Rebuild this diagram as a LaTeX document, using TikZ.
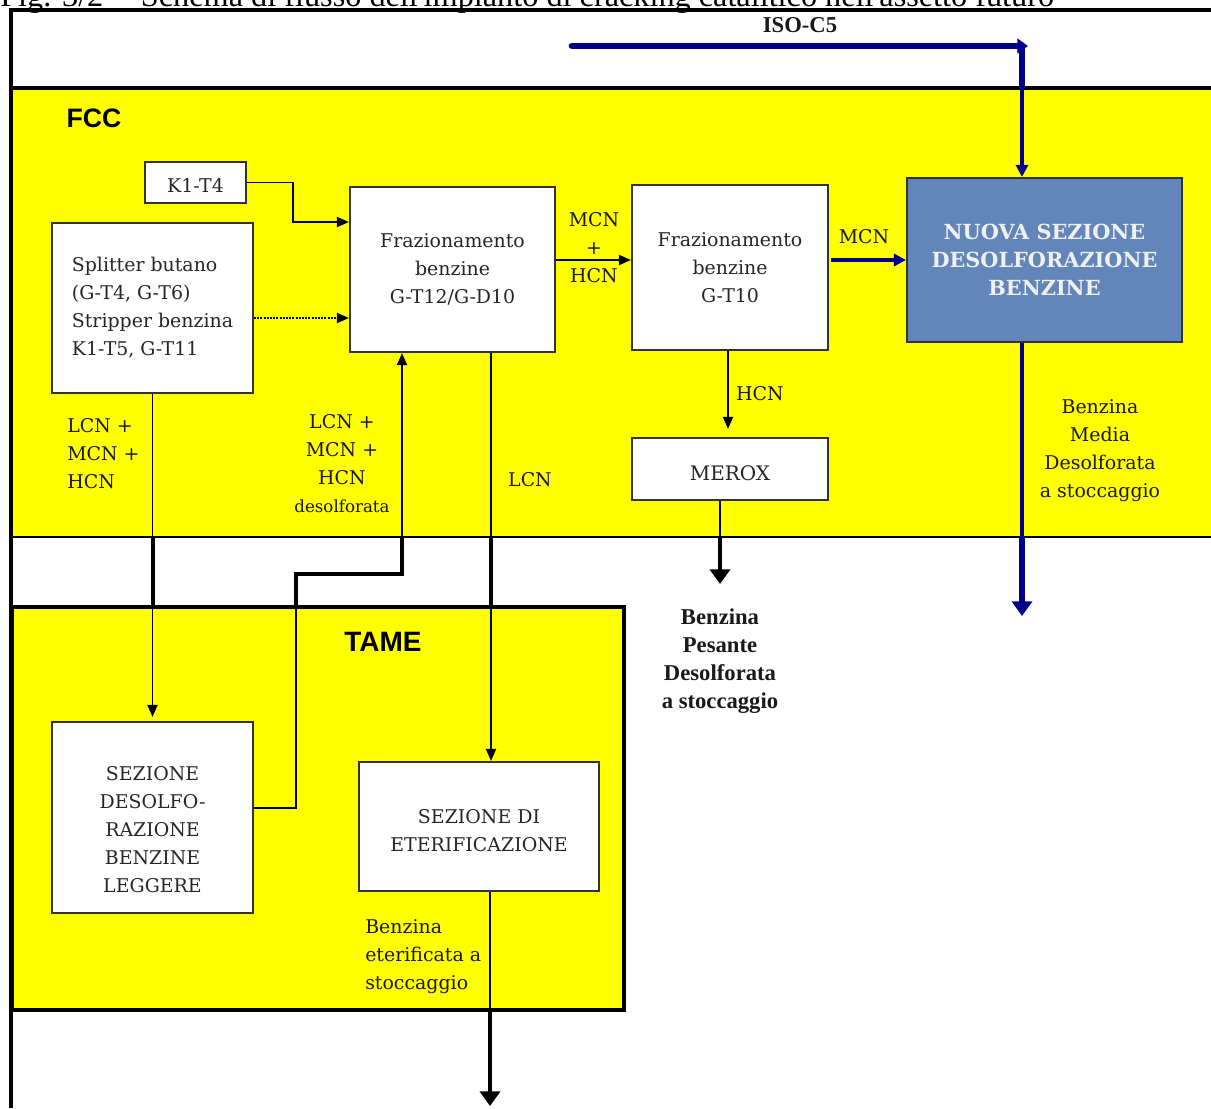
\documentclass[tikz,border=0pt]{standalone}
\usepackage{fontspec}
\setmainfont{DejaVu Serif}
\newfontfamily\timesf{Liberation Serif}
\newfontfamily\arialf{Liberation Sans}
\usetikzlibrary{arrows.meta,calc}
\definecolor{ylw}{RGB}{255,255,0}
\definecolor{navyb}{RGB}{0,0,140}
\definecolor{steel}{RGB}{99,134,186}
\newcommand\bxf{\fontsize{14.2}{21}\selectfont}
\newcommand\smf{\fontsize{12.5}{20}\selectfont}
\tikzset{
  box/.style={draw=black!80, line width=1.6pt, fill=white, align=center, inner sep=0pt, text=black!85, font=\bxf},
  lab/.style={align=center, inner sep=0pt, text=black!90, font=\bxf},
  fln/.style={line width=1.4pt},
  flow/.style={line width=1.4pt, -{Triangle[length=9pt,width=7.5pt]}},
  fthick/.style={line width=3.6pt},
  fthickarrow/.style={line width=3.6pt, -{Triangle[length=11pt,width=15pt]}},
  bthin/.style={draw=navyb, line width=2.8pt},
  bthick/.style={draw=navyb, line width=5pt},
}
\begin{document}
\begin{tikzpicture}[x=0.75pt,y=-0.75pt]
\useasboundingbox (0,0) rectangle (1211,1108);
\clip (0,0) rectangle (1211,1108);
\fill[white] (0,0) rectangle (1211,1108);
% caption (cut by the top edge, as in the reference)
\node[anchor=base west, inner sep=0pt, font=\timesf\fontsize{24.2}{26}\selectfont] (cap) at (0,6) {Fig. 3/2 -- Schema di flusso dell'impianto di cracking catalitico nell'assetto futuro};
% bands
\fill[ylw] (12,88) rectangle (1211,537);
\draw[line width=3pt] (12,88) -- (1211,88);
\draw[line width=1.5pt] (12,537) -- (1211,537);
\filldraw[fill=ylw, line width=2.6pt] (12,607) rectangle (624,1010);
\draw[line width=2.6pt] (1211,10) -- (11,10) -- (11,1108);
% band labels
\node[inner sep=0pt, font=\arialf\bfseries\fontsize{20}{24}\selectfont] (fcc) at (94,118) {FCC};
\node[inner sep=0pt, font=\arialf\bfseries\fontsize{21}{24}\selectfont] (tame) at (383,642) {TAME};
% boxes
\node[box, minimum width=75.75pt, minimum height=30.75pt] (k1) at (195.5,182.5) {};
\node[lab, text=black!85] (k1t) at (195.5,185.5) {K1-T4};
\node[box, minimum width=150.75pt, minimum height=127.5pt, align=left] (split) at (152.5,308) {Splitter butano\\(G-T4, G-T6)\\Stripper benzina\\K1-T5, G-T11};
\node[box, minimum width=153.75pt, minimum height=123.75pt] (gt12) at (452.5,269.5) {Frazionamento\\benzine\\G-T12/G-D10};
\node[box, minimum width=147pt, minimum height=123.75pt] (gt10) at (730,267.5) {Frazionamento\\benzine\\G-T10};
\node[box, fill=steel, text=white!94!black, minimum width=206.25pt, minimum height=123pt, font=\bfseries\fontsize{15.6}{21}\selectfont] (nuova) at (1044.5,260) {NUOVA SEZIONE\\DESOLFORAZIONE\\BENZINE};
\node[box, minimum width=147pt, minimum height=46.5pt] (merox) at (730,469) {};
\node[lab, text=black!85, font=\fontsize{15}{21}\selectfont] (meroxt) at (730,473) {MEROX};
\node[box, minimum width=150.75pt, minimum height=143.25pt] (desolfo) at (152.5,817.5) {};
\node[lab, text=black!85] (desolfot) at (152.5,829.5) {SEZIONE\\DESOLFO-\\RAZIONE\\BENZINE\\LEGGERE};
\node[box, minimum width=180pt, minimum height=96.75pt] (eterif) at (479,826.5) {};
\node[lab, text=black!85] (eteriftt) at (479,830.5) {SEZIONE DI\\ETERIFICAZIONE};
% labels
\node[lab, font=\timesf\bfseries\fontsize{17}{20}\selectfont] (iso) at (800,25) {ISO-C5};
\node[lab] (l1) at (594,248) {MCN\\+\\HCN};
\node[lab] (l2) at (864,237) {MCN};
\node[lab] (l3) at (760,394) {HCN};
\node[lab, anchor=north west, align=left] (l4) at (67,418) {LCN +\\MCN +\\HCN};
\node[lab, anchor=north] (l5) at (342,414) {LCN +\\MCN +\\HCN\\{\smf desolforata}};
\node[lab] (l6) at (530,480) {LCN};
\node[lab, anchor=north west, align=left] (l7) at (365,919) {Benzina\\eterificata a\\stoccaggio};
\node[lab, anchor=north] (l8) at (1100,399) {Benzina\\Media\\Desolforata\\a stoccaggio};
\node[lab, anchor=north, font=\timesf\bfseries\fontsize{17}{21}\selectfont] (l9) at (720,608) {Benzina\\Pesante\\Desolforata\\a stoccaggio};
% coordinates
\coordinate (isoS) at (572,46);
\coordinate (isoT) at (1022,46);
\coordinate (isoB) at (1022,88);
\coordinate (nB) at (1022,537);
\coordinate (nE) at (1022,616);
\coordinate (mB) at (720,537);
\coordinate (mE) at (720,584);
\coordinate (eB) at (490,1010);
\coordinate (eE) at (490,1106);
% connectors
\draw[flow] (k1.east) -- (293,182.5) |- ($(gt12.west)+(0,-47.5)$);
\draw[flow, densely dotted] ($(split.east)+(0,10)$) -- ($(gt12.west)+(0,48.5)$);
\draw[flow] ($(gt12.east)+(0,-9.5)$) -- ($(gt10.west)+(0,-7.5)$);
\draw[bthin, -{Triangle[length=9pt,width=9pt]}] ($(gt10.east)+(2,-7.5)$) -- (nuova.west);
\draw[bthick, line cap=round, -{Triangle[length=8pt,width=11pt]}] (isoS) -- ($(isoT)+(6,0)$);
\draw[bthick] (isoT) -- (isoB);
\draw[bthin, -{Triangle[length=9pt,width=9pt]}] (isoB) -- (isoB |- nuova.north);
\draw[bthin] (nuova.south -| nB) -- (nB);
\draw[bthick, -{Triangle[length=11pt,width=15pt]}] (nB) -- (nE);
\draw[flow, shorten >=6pt] ($(gt10.south)+(-2,0)$) -- ($(merox.north)+(-2,0)$);
\draw[fln] (merox.south -| mB) -- (mB);
\draw[fthickarrow] (mB) -- (mE);
\draw[flow] (split.south) -- ($(desolfo.north)+(0,-4)$);
\draw[fthick] (153,537) -- (153,607);
\draw[flow] ($(desolfo.east)+(0,-9.5)$) -- (296,808) |- (402,574) -- ($(gt12.south)+(-50.5,0)$);
\draw[fthick] (296,607) |- (402,574) -- (402,537);
\draw[flow] ($(gt12.south)+(38.5,0)$) -- ($(eterif.north)+(12,0)$);
\draw[fthick] (491,537) -- (491,607);
\draw[fln] ($(eterif.south)+(11,0)$) -- (eB);
\draw[fthickarrow] (eB) -- (eE);
\end{tikzpicture}
\end{document}
